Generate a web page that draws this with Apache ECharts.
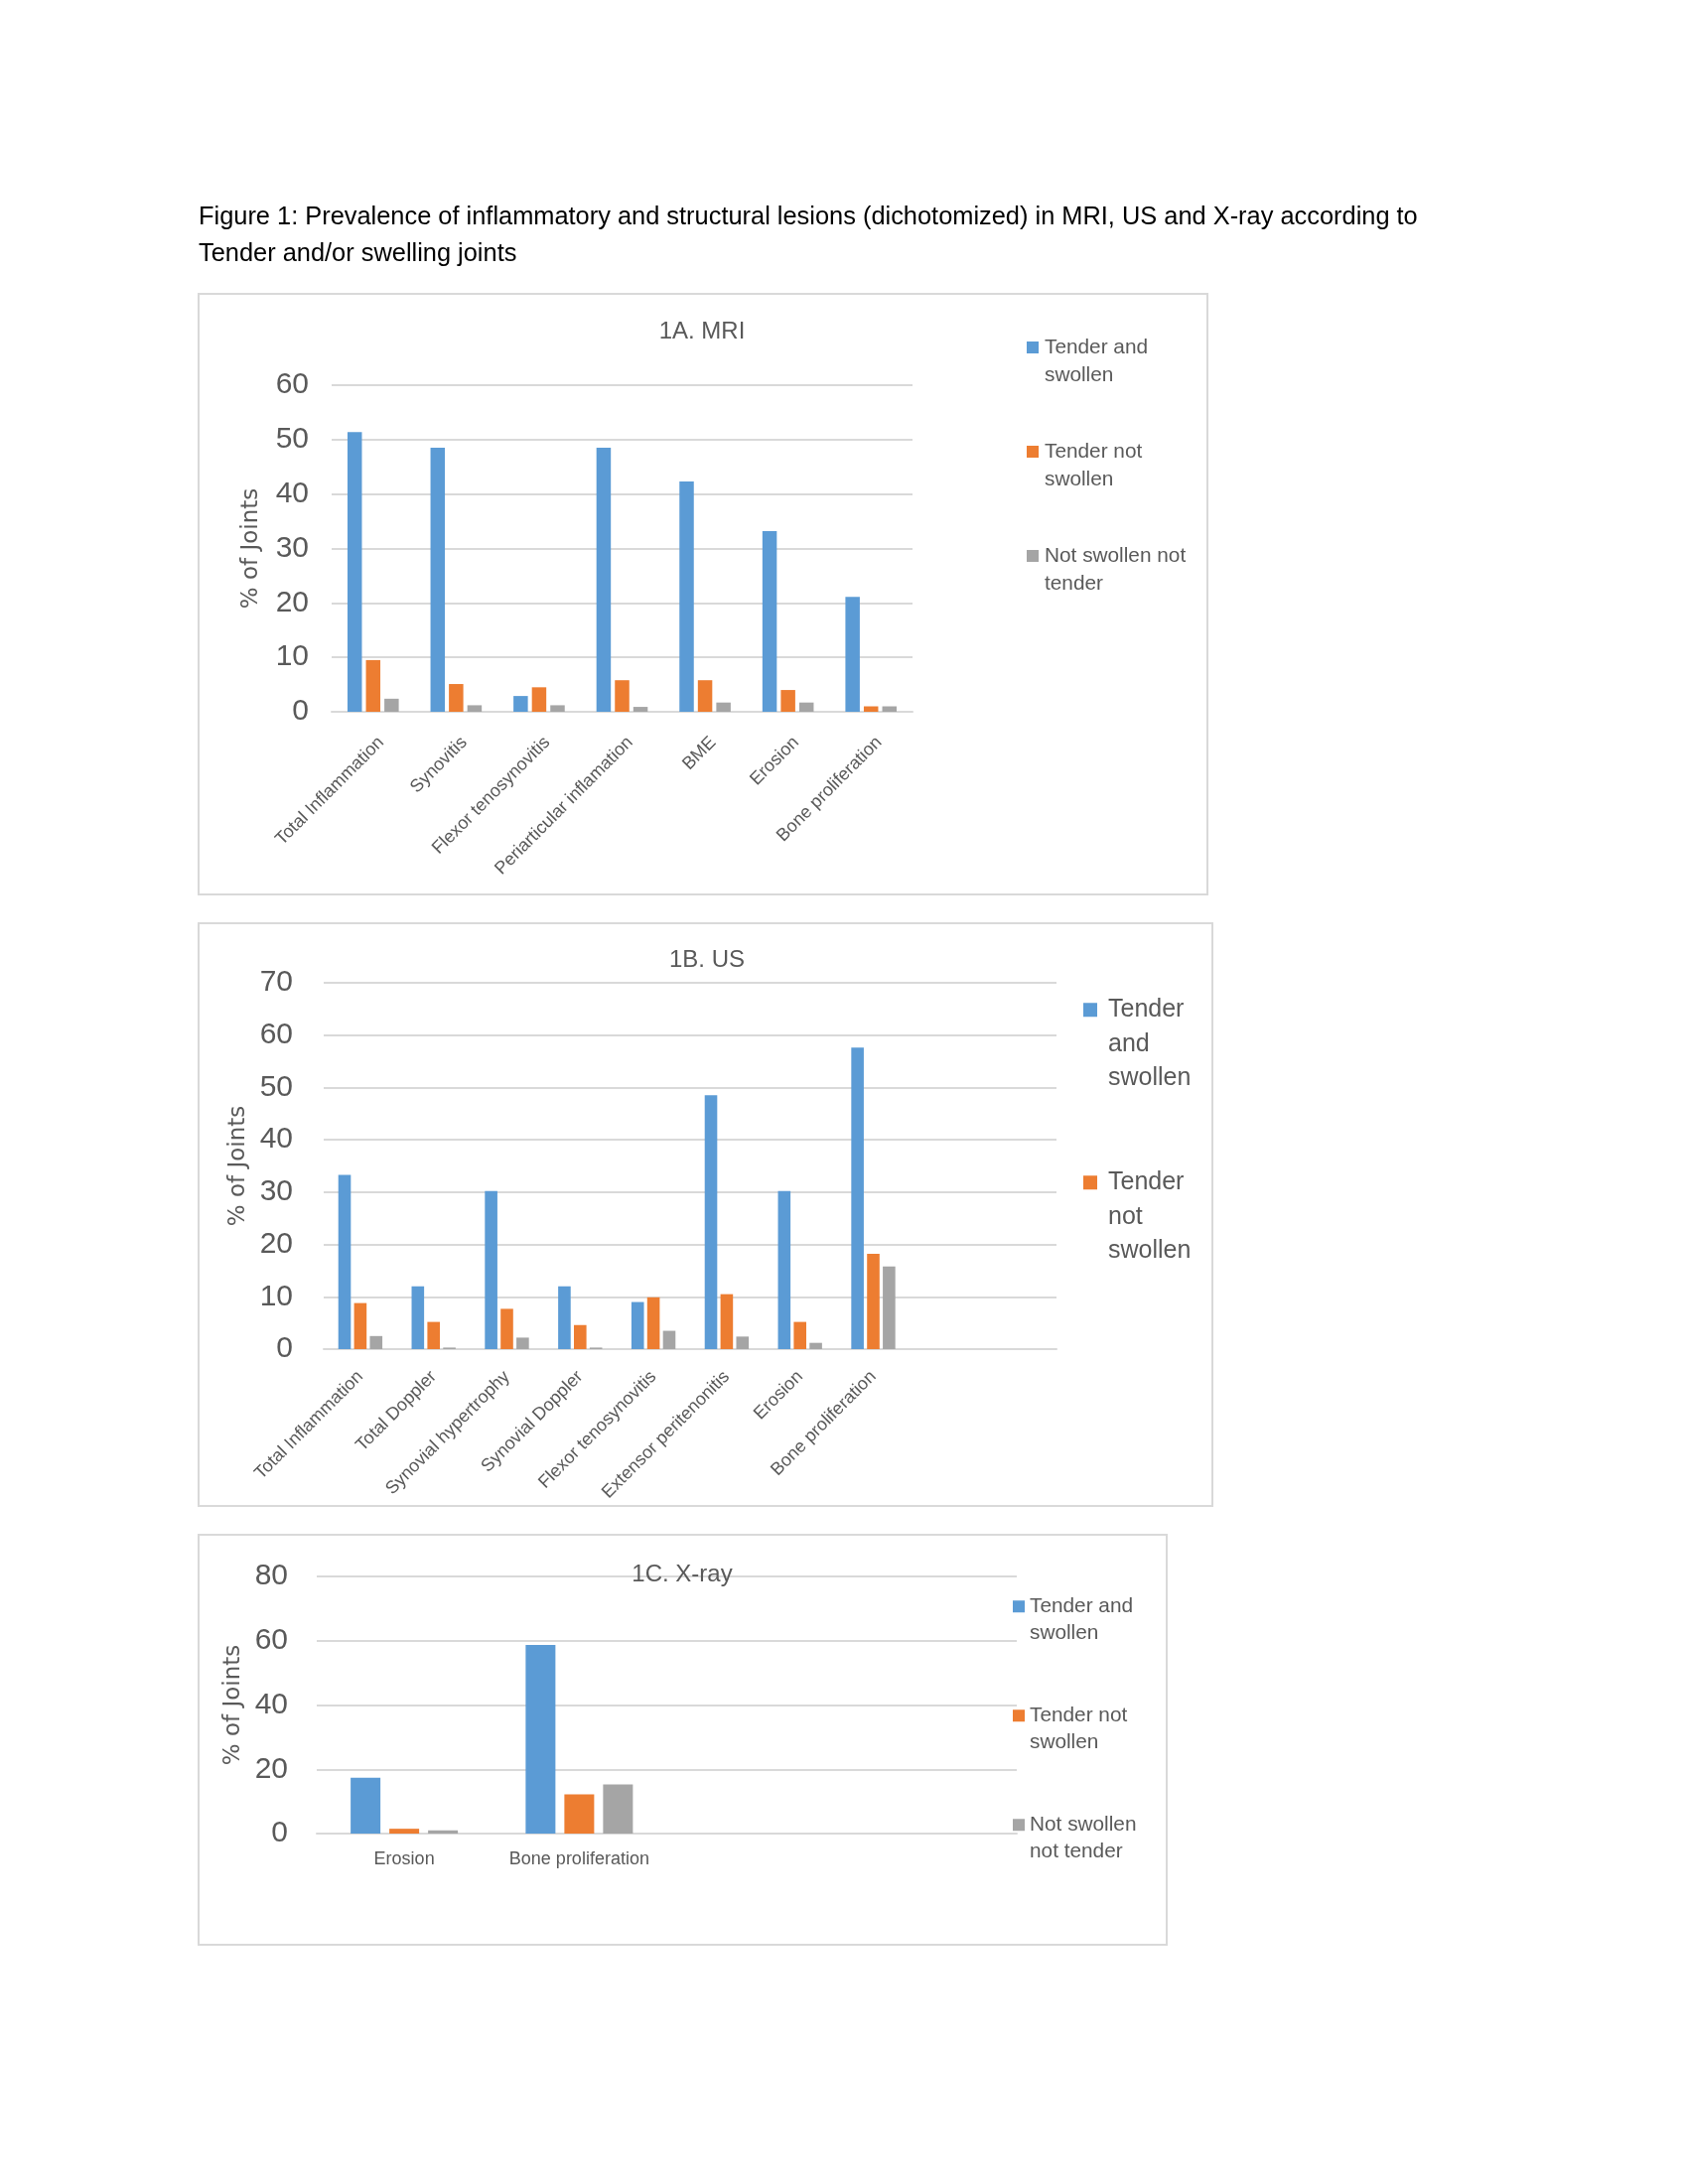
<!DOCTYPE html>
<html><head><meta charset="utf-8">
<script src="https://cdn.jsdelivr.net/npm/echarts@6/dist/echarts.min.js"></script>
<style>html,body{margin:0;padding:0;background:#fff}#c{width:1700px;height:2200px}</style>
</head><body><div id="c"></div>
<script>
// ---- Data ----
const seriesNames = ['Tender and swollen', 'Tender not swollen', 'Not swollen not tender'];

const mriCategories = ['Total Inflammation', 'Synovitis', 'Flexor tenosynovitis', 'Periarticular inflamation', 'BME', 'Erosion', 'Bone proliferation'];
const mriTenderSwollen = [51.4, 48.5, 2.9, 48.5, 42.3, 33.2, 21.1];
const mriTenderNotSwollen = [9.5, 5.1, 4.5, 5.8, 5.8, 4.0, 1.0];
const mriNeither = [2.4, 1.2, 1.2, 0.9, 1.7, 1.7, 1.0];

const usCategories = ['Total Inflammation', 'Total Doppler', 'Synovial hypertrophy', 'Synovial Doppler', 'Flexor tenosynovitis', 'Extensor peritenonitis', 'Erosion', 'Bone proliferation', ' ', '  '];
const usTenderSwollen = [33.3, 12.0, 30.2, 12.0, 9.0, 48.5, 30.2, 57.6, null, null];
const usTenderNotSwollen = [8.8, 5.2, 7.7, 4.6, 9.9, 10.5, 5.2, 18.2, null, null];
const usNeither = [2.5, 0.3, 2.2, 0.3, 3.5, 2.4, 1.2, 15.8, null, null];

const xrayCategories = ['Erosion', 'Bone proliferation', ' ', '  '];
const xrayTenderSwollen = [17.4, 58.7, null, null];
const xrayTenderNotSwollen = [1.5, 12.2, null, null];
const xrayNeither = [1.0, 15.3, null, null];

const mriTicks = {min: 0, max: 60, interval: 10};
const usTicks = {min: 0, max: 70, interval: 10};
const xrayTicks = {min: 0, max: 80, interval: 20};

// legend text wrapping per panel
const mriLegendLines = {'Tender and swollen': ['Tender and', 'swollen'], 'Tender not swollen': ['Tender not', 'swollen'], 'Not swollen not tender': ['Not swollen not', 'tender']};
const usLegendLines = {'Tender and swollen': ['Tender', 'and', 'swollen'], 'Tender not swollen': ['Tender', 'not', 'swollen']};
const xrayLegendLines = {'Tender and swollen': ['Tender and', 'swollen'], 'Tender not swollen': ['Tender not', 'swollen'], 'Not swollen not tender': ['Not swollen', 'not tender']};

// ---- Styling ----
const colors = ['#5B9BD5', '#ED7D31', '#A5A5A5'];
const gray = '#595959';
const gridColor = '#D9D9D9';
const FONT = 'Liberation Sans';

const chart = echarts.init(document.getElementById('c'), null, {renderer: 'canvas'});

function yAxis(gridIndex, ticks, labelMargin, nameGap) {
  return {
    type: 'value', gridIndex, min: ticks.min, max: ticks.max, interval: ticks.interval,
    name: '% of Joints', nameLocation: 'middle', nameRotate: 90, nameGap,
    nameTextStyle: {fontFamily: 'DejaVu Sans', fontSize: 23, color: gray},
    axisLabel: {fontFamily: FONT, fontSize: 30, color: gray, margin: labelMargin},
    axisLine: {show: false}, axisTick: {show: false},
    splitLine: {lineStyle: {color: gridColor, width: 2}}
  };
}
function xAxis(gridIndex, cats, rotate, margin, fontSize, vAlign, lineHeight) {
  const label = {interval: 0, rotate, margin, fontFamily: FONT, fontSize, color: gray};
  if (vAlign) { label.verticalAlign = vAlign; label.lineHeight = lineHeight; }
  return {
    type: 'category', gridIndex, data: cats,
    axisLine: {lineStyle: {color: gridColor, width: 2}},
    axisTick: {show: false},
    axisLabel: label
  };
}
function bars(idx, data, barWidth, barGap) {
  return data.map((d, i) => ({
    name: seriesNames[i], type: 'bar', xAxisIndex: idx, yAxisIndex: idx,
    data: d, barWidth, barGap, itemStyle: {color: colors[i]}, animation: false
  }));
}
function legend(left, top, fontSize, lineHeight, itemGap, icon, padLeft, linesMap) {
  const names = Object.keys(linesMap);
  return {
    orient: 'vertical', left, top, padding: 0, itemGap,
    itemWidth: icon, itemHeight: icon, icon: 'rect',
    data: names,
    formatter: n => {
      const lines = linesMap[n];
      const blanks = new Array(lines.length - 1).fill('{t| }');
      return blanks.concat(lines.map(l => '{t|' + l + '}')).join('\n');
    },
    textStyle: {fontFamily: FONT, fontSize, color: gray, lineHeight,
      rich: {t: {fontFamily: FONT, fontSize, color: gray, lineHeight, padding: [0, 0, 0, padLeft]}}}
  };
}
function title(text, cx, top) {
  return {text, left: cx, top, textAlign: 'center', padding: 0,
    textStyle: {fontFamily: FONT, fontSize: 24, fontWeight: 'normal', color: gray}};
}

const option = {
  backgroundColor: '#fff',
  animation: false,
  title: [
    {text: 'Figure 1: Prevalence of inflammatory and structural lesions (dichotomized) in MRI, US and X-ray according to\nTender and/or swelling joints',
     left: 200, top: 200, padding: 0,
     textStyle: {fontFamily: FONT, fontSize: 25.4, fontWeight: 'normal', color: '#000', lineHeight: 37}},
    title('1A. MRI', 707, 322),
    title('1B. US', 712, 955),
    title('1C. X-ray', 687, 1574)
  ],
  graphic: [
    {type: 'rect', shape: {x: 200, y: 296, width: 1016, height: 605}, style: {fill: 'none', stroke: gridColor, lineWidth: 2}, silent: true},
    {type: 'rect', shape: {x: 200, y: 930, width: 1021, height: 587}, style: {fill: 'none', stroke: gridColor, lineWidth: 2}, silent: true},
    {type: 'rect', shape: {x: 200, y: 1546, width: 975, height: 413}, style: {fill: 'none', stroke: gridColor, lineWidth: 2}, silent: true}
  ],
  legend: [
    legend(1034, 308, 20.8, 28, 21, 12, 1, mriLegendLines),
    legend(1091, 931, 25, 34.5, 1.5, 14, 6, usLegendLines),
    legend(1020, 1577, 20.8, 27.5, 27.5, 12, 0, xrayLegendLines)
  ],
  grid: [
    {left: 334, top: 388, width: 585, height: 329},
    {left: 326, top: 990, width: 738, height: 369},
    {left: 319, top: 1588, width: 705, height: 259}
  ],
  xAxis: [
    xAxis(0, mriCategories, 45, 20, 18, 'top', 23),
    xAxis(1, usCategories, 45, 25, 18),
    xAxis(2, xrayCategories, 0, 17, 18)
  ],
  yAxis: [
    yAxis(0, mriTicks, 23, 69),
    yAxis(1, usTicks, 31, 74),
    yAxis(2, xrayTicks, 29, 72)
  ],
  series: [
    ...bars(0, [mriTenderSwollen, mriTenderNotSwollen, mriNeither], 14.5, '28%'),
    ...bars(1, [usTenderSwollen, usTenderNotSwollen, usNeither], 12.6, '26%'),
    ...bars(2, [xrayTenderSwollen, xrayTenderNotSwollen, xrayNeither], 30, '30%')
  ]
};
chart.setOption(option);
</script></body></html>
